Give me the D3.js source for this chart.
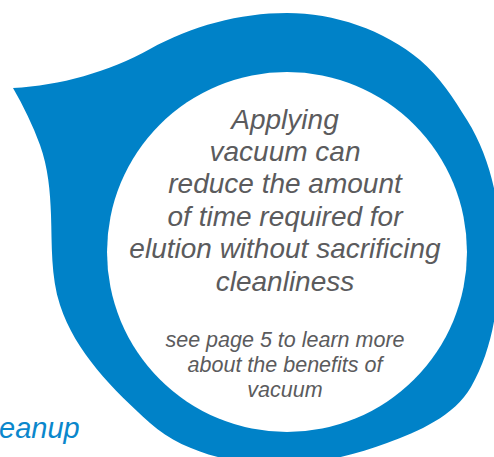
<!DOCTYPE html>
<html>
<head>
<meta charset="utf-8">
<script src="https://cdn.jsdelivr.net/npm/d3@7"></script>
<style>
  body { margin: 0; background: #fff; }
  svg { display: block; }
</style>
</head>
<body>
<div id="chart"></div>
<script>
// Text content
const mainLines = ["Applying", "vacuum can", "reduce the amount", "of time required for", "elution without sacrificing", "cleanliness"];
const noteLines = ["see page 5 to learn more", "about the benefits of", "vacuum"];
const sideLabel = "eanup";

const W = 494, H = 457;
const blue = "#0082c8";
const grey = "#5b5b5d";

const svg = d3.select("#chart")
  .append("svg")
  .attr("width", W)
  .attr("height", H);

// Drop outline: nodes [x, y, heading in degrees], clockwise from the tip
const dropNodes = [
  [13, 88, -3],
  [150, 49, -29],
  [287, 13, 0],
  [420, 60, 40],
  [467, 120, 58],
  [500, 245, 90],
  [471, 387, 120],
  [387, 443, 160],
  [260, 464, 185],
  [150, 423, 222],
  [60, 305, 252],
  [51, 215, 268],
  [40, 145, 250],
  [13, 88, 240]
];

function dropPath(nodes) {
  const p = d3.path();
  const rad = a => a * Math.PI / 180;
  p.moveTo(nodes[0][0], nodes[0][1]);
  for (let i = 0; i < nodes.length - 1; i++) {
    const [x0, y0, a0] = nodes[i];
    const [x1, y1, a1] = nodes[i + 1];
    const h = Math.hypot(x1 - x0, y1 - y0) / 3;
    p.bezierCurveTo(
      x0 + h * Math.cos(rad(a0)), y0 + h * Math.sin(rad(a0)),
      x1 - h * Math.cos(rad(a1)), y1 - h * Math.sin(rad(a1)),
      x1, y1);
  }
  p.closePath();
  return p.toString();
}

svg.append("path")
  .attr("d", dropPath(dropNodes))
  .attr("fill", blue);

// White inner circle
svg.append("circle")
  .attr("cx", 287)
  .attr("cy", 252)
  .attr("r", 180)
  .attr("fill", "#fff");

const cx = 285;

svg.append("g")
  .selectAll("text")
  .data(mainLines)
  .enter().append("text")
  .attr("x", cx)
  .attr("y", (d, i) => 128.5 + i * 32.4)
  .attr("text-anchor", "middle")
  .attr("font-family", "'Liberation Sans', Arial, sans-serif")
  .attr("font-style", "italic")
  .attr("font-size", 28)
  .attr("fill", grey)
  .text(d => d);

svg.append("g")
  .selectAll("text")
  .data(noteLines)
  .enter().append("text")
  .attr("x", cx)
  .attr("y", (d, i) => 346.7 + i * 25)
  .attr("text-anchor", "middle")
  .attr("font-family", "'Liberation Sans', Arial, sans-serif")
  .attr("font-style", "italic")
  .attr("font-size", 21.5)
  .attr("fill", grey)
  .text(d => d);

svg.append("text")
  .attr("x", -1)
  .attr("y", 438)
  .attr("font-family", "'Liberation Sans', Arial, sans-serif")
  .attr("font-style", "italic")
  .attr("font-size", 29)
  .attr("fill", "#0a87cc")
  .text(sideLabel);
</script>
</body>
</html>
